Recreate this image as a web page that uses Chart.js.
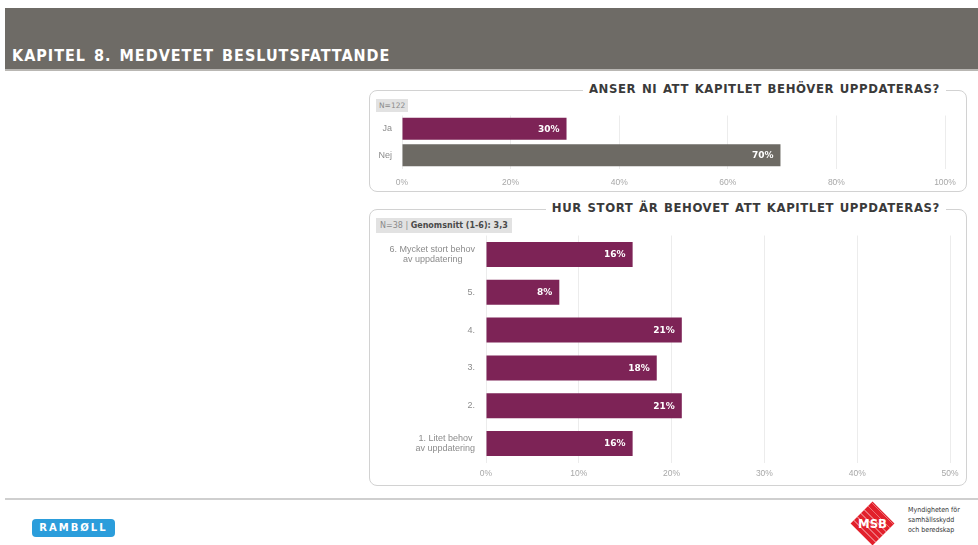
<!DOCTYPE html>
<html>
<head>
<meta charset="utf-8">
<script src="https://cdn.jsdelivr.net/npm/chart.js@4"></script>
<style>
  body { margin: 0; width: 978px; height: 545px; background: #fff; position: relative; overflow: hidden; font-family: "DejaVu Sans", sans-serif; }
  .band { position: absolute; left: 5px; top: 8px; width: 973px; height: 61px; background: #6e6b66; border-bottom: 2px solid #b9b7b3; }
  .band h1 { position: absolute; left: 7px; bottom: 4px; margin: 0; color: #fff; font: bold 16px "DejaVu Sans Condensed", sans-serif; letter-spacing: 1px; word-spacing: 2px; }
  .panel { position: absolute; border: 1.5px solid #d2d2d2; border-radius: 8px; box-sizing: border-box; }
  .panel .title { position: absolute; right: 20px; top: -10px; background: #fff; padding: 0 6px; color: #3a3a3a; font: bold 13px "DejaVu Sans Condensed", sans-serif; letter-spacing: 0.6px; word-spacing: 1px; white-space: nowrap; }
  .legend { position: absolute; background: #e2e2e2; color: #8a8a8a; font: 7.5px "DejaVu Sans", sans-serif; padding: 2px 3px; white-space: nowrap; }
  .legend b { color: #4a4a4a; }
  canvas { position: absolute; }
  .footline { position: absolute; left: 5px; top: 498px; width: 973px; height: 2px; background: #cfcfcf; }
  .ramboll { position: absolute; left: 32px; top: 519px; width: 83px; height: 18px; background: #2b9ddb; border-radius: 4px; color: #fff; font: bold 10px "DejaVu Sans", sans-serif; letter-spacing: 2px; text-align: center; line-height: 18px; }
  .msb { position: absolute; left: 857px; top: 508px; width: 31px; height: 31px; background: #e2202b; transform: rotate(45deg);
         background-image: repeating-linear-gradient(0deg, transparent 0 4px, rgba(255,255,255,0.35) 4px 5px); }
  .msbtxt { position: absolute; left: 852px; top: 516px; width: 41px; text-align: center; color: #fff; font: bold 13px "DejaVu Sans Condensed", sans-serif; }
  .msbname { position: absolute; left: 908px; top: 505px; color: #333; font: 7px "DejaVu Sans Condensed", sans-serif; line-height: 10px; }
</style>
</head>
<body>
<div class="band"><h1>KAPITEL 8. MEDVETET BESLUTSFATTANDE</h1></div>

<div class="panel" style="left:369px; top:90px; width:598px; height:102px;">
  <div class="title">ANSER NI ATT KAPITLET BEHÖVER UPPDATERAS?</div>
</div>
<div class="legend" style="left:376px; top:99px;">N=122</div>
<canvas id="chart1" width="596" height="84" style="left:369px; top:110px;"></canvas>

<div class="panel" style="left:369px; top:209px; width:598px; height:277px;">
  <div class="title">HUR STORT ÄR BEHOVET ATT KAPITLET UPPDATERAS?</div>
</div>
<div class="legend" style="left:376px; top:218px; padding:3px 4px; font-size:8px;">N=38 | <b>Genomsnitt (1-6): 3,3</b></div>
<canvas id="chart2" width="596" height="256" style="left:369px; top:230px;"></canvas>

<div class="footline"></div>
<div class="ramboll">RAMBØLL</div>
<div class="msb"></div>
<div class="msbtxt">MSB</div>
<div class="msbname">Myndigheten för<br>samhällsskydd<br>och beredskap</div>

<script>
// Anser ni att kapitlet behöver uppdateras? (N=122)
const answerLabels = ['Ja', 'Nej'];
const answerValues = [30.3, 69.7];
const answerTicks = [0, 20, 40, 60, 80, 100];

// Hur stort är behovet att kapitlet uppdateras? (N=38)
const needLabels = [
    ['6. Mycket stort behov', 'av uppdatering'],
    '5.',
    '4.',
    '3.',
    '2.',
    ['1. Litet behov', 'av uppdatering']
];
const needValues = [15.8, 7.9, 21.1, 18.4, 21.1, 15.8];
const needTicks = [0, 10, 20, 30, 40, 50];

const MAROON = '#7d2356';
const GREY = '#6d6a64';
const tickFont = { family: 'Liberation Sans', size: 8.5 };
const labelFont = { family: 'Liberation Sans', size: 9, lineHeight: 1.1 };

// centre the lines of a two-line label by padding the shorter one with spaces
const measureCtx = document.createElement('canvas').getContext('2d');
function centerLines(lines) {
    measureCtx.font = labelFont.size + 'px ' + labelFont.family;
    const widths = lines.map(l => measureCtx.measureText(l).width);
    const widest = Math.max(...widths);
    const sp = measureCtx.measureText(' ').width || 2.5;
    return lines.map((l, i) => l + ' '.repeat(Math.round((widest - widths[i]) / 2 / sp)));
}

// white percentage labels inside the bar ends
const barValueLabels = {
    id: 'barValueLabels',
    afterDatasetsDraw(chart) {
        const ctx = chart.ctx;
        const meta = chart.getDatasetMeta(0);
        ctx.save();
        ctx.fillStyle = '#fff';
        ctx.font = 'bold 9px "DejaVu Sans"';
        ctx.textAlign = 'right';
        ctx.textBaseline = 'middle';
        meta.data.forEach((bar, i) => {
            const v = chart.data.datasets[0].data[i];
            ctx.fillText(Math.round(v) + '%', bar.x - 7, bar.y + 0.5);
        });
        ctx.restore();
    }
};

function makeChart(id, labels, values, colors, ticks, opts) {
    return new Chart(document.getElementById(id), {
        type: 'bar',
        data: {
            labels: labels,
            datasets: [{
                data: values,
                backgroundColor: colors,
                barPercentage: opts.barPct,
                categoryPercentage: 1
            }]
        },
        options: {
            indexAxis: 'y',
            responsive: false,
            animation: false,
            layout: { padding: { top: opts.padTop, right: opts.padRight, left: 0, bottom: 0 } },
            plugins: { legend: { display: false }, tooltip: { enabled: false } },
            scales: {
                x: {
                    min: 0,
                    max: ticks[ticks.length - 1],
                    afterBuildTicks: s => { s.ticks = ticks.map(v => ({ value: v })); },
                    grid: { color: '#ececec', drawTicks: false },
                    border: { display: false },
                    ticks: {
                        color: '#a8a8a8',
                        font: tickFont,
                        padding: opts.tickPad,
                        maxRotation: 0,
                        callback: v => v + '%'
                    },
                    afterFit: s => { s.height = opts.xHeight; s.paddingLeft = 0; s.paddingRight = 0; }
                },
                y: {
                    grid: { display: false, drawTicks: false },
                    border: { display: false },
                    ticks: {
                        color: '#8c8c8c',
                        font: labelFont,
                        padding: opts.labelPad,
                        callback: function (v) {
                            const l = this.getLabelForValue(v);
                            return Array.isArray(l) ? centerLines(l) : l;
                        }
                    },
                    afterFit: s => { s.width = opts.yWidth; s.paddingTop = 0; s.paddingBottom = 0; }
                }
            }
        },
        plugins: [barValueLabels]
    });
}

makeChart('chart1', answerLabels, answerValues, [MAROON, GREY], answerTicks, {
    barPct: 0.83, padTop: 5.5, padRight: 20, tickPad: 9, xHeight: 25.5, yWidth: 33, labelPad: 10
});

makeChart('chart2', needLabels, needValues, MAROON, needTicks, {
    barPct: 0.66, padTop: 5.5, padRight: 15, tickPad: 6, xHeight: 23.5, yWidth: 117, labelPad: 11
});
</script>
</body>
</html>
